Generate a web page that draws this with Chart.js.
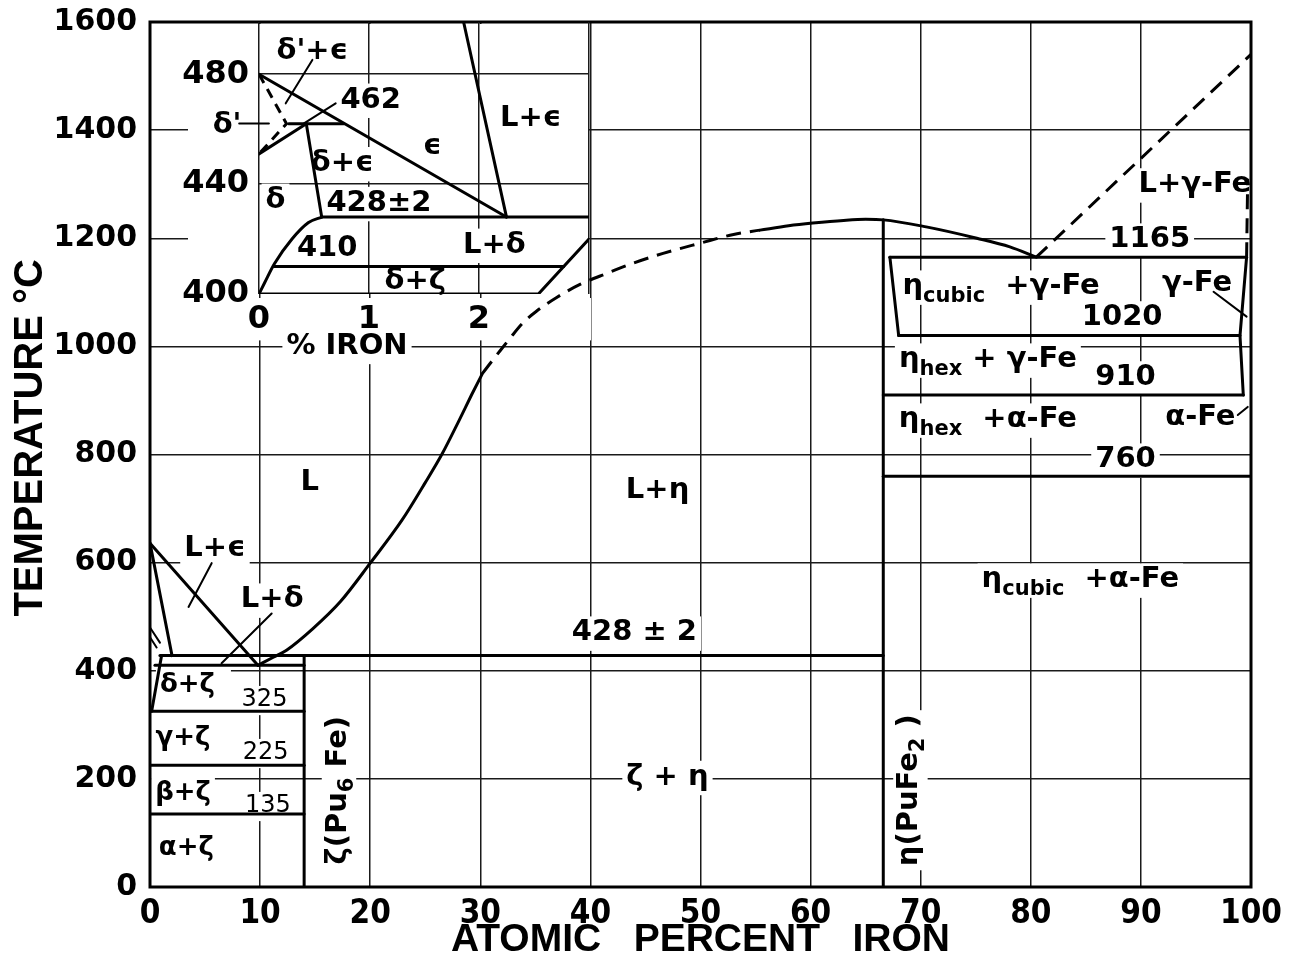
<!DOCTYPE html>
<html>
<head>
<meta charset="utf-8">
<script src="https://cdn.jsdelivr.net/npm/chart.js@4.4.1/dist/chart.umd.min.js"></script>
<style>
  html, body { margin: 0; padding: 0; background: #fff; }
  #wrap { position: relative; width: 1295px; height: 968px; overflow: hidden; }
  #main { position: absolute; left: 0; top: 0; }
  #inset { position: absolute; left: 150px; top: 0; }
</style>
</head>
<body>
<div id="wrap">
  <canvas id="main" width="1295" height="968"></canvas>
  <canvas id="inset" width="460" height="370"></canvas>
</div>
<script>
// ---- Pu-Fe phase diagram: axes ----
const xTickValues = [0, 10, 20, 30, 40, 50, 60, 70, 80, 90, 100];
const yTickValues = [0, 200, 400, 600, 800, 1000, 1200, 1400, 1600];
const insetXTicks = [0, 1, 2, 3];
const insetYTicks = [400, 440, 480];

// ---- main diagram boundaries (at.% Fe, deg C) ----
const liquidusEpsilon = [[0, 636], [9.8, 410]];
const solidusEpsilon = [[0, 636], [2.0, 428]];
const deltaPrimeUpper = [[0, 480], [0.9, 452]];
const deltaPrimeLower = [[0, 462], [0.6, 443]];
const liquidusEtaLow = [[9.8, 410], [11.2, 425], [12.4, 438], [14.8, 478], [17.3, 528], [20, 599],
                        [22.9, 679], [25, 748], [26.5, 800], [28, 860], [29.2, 910], [30.2, 950]];
const liquidusEtaMid = [[30.2, 950], [30.8, 966], [31.8, 992], [32.7, 1015], [33.9, 1044], [35.1, 1065],
                        [36.9, 1090], [39.1, 1115], [41.5, 1135], [43.9, 1154], [46.6, 1172], [50, 1191],
                        [53, 1207], [55.4, 1215]];
const liquidusEtaTop = [[55.4, 1215], [58, 1223], [60.2, 1228], [63, 1233], [65, 1235], [66.6, 1234],
                        [70.5, 1221], [75.1, 1200], [78.1, 1184], [80.5, 1165]];
const liquidusGammaFe = [[80.5, 1165], [100, 1540]];
const solidusGammaFe = [[99.6, 1165], [99.7, 1310]];
const peritectic428 = [[0.9, 428], [66.6, 428]];
const eutectic410 = [[0.45, 410], [14, 410]];
const zetaPhase = [[14, 428], [14, 0]];
const etaPhase = [[66.6, 1234], [66.6, 0]];
const deltaSolvus = [[1.05, 428], [0.15, 325]];
const delta325 = [[0.15, 325], [14, 325]];
const gamma225 = [[0, 225], [14, 225]];
const beta135 = [[0, 135], [14, 135]];
const etaGamma1165 = [[67.2, 1165], [99.6, 1165]];
const etaCubicEdge = [[67.2, 1165], [68.0, 1020]];
const gammaFeSolvus = [[99.6, 1165], [99.0, 1020], [99.3, 910]];
const etaHex1020 = [[68.0, 1020], [99.0, 1020]];
const gammaAlpha910 = [[66.6, 910], [99.3, 910]];
const etaCubic760 = [[66.6, 760], [100, 760]];
const leaderLEps = [[5.6, 599], [3.5, 518]];
const leaderLDelta = [[11.05, 506], [6.5, 414]];
const leaderGammaFe = [[96.6, 1101], [99.6, 1055]];
const leaderAlphaFe = [[98.8, 873], [99.7, 888]];

// ---- enlarged Pu corner (wt.% Fe, deg C) ----
const insetFrame = [[0, 400], [2.54, 400], [3, 420]];
const insetSolidusEps = [[1.86, 499], [2.25, 428]];
const insetSolvusEps = [[0, 480], [2.25, 428]];
const insetLine462 = [[0.27, 462], [0.77, 462]];
const insetSolvusDelta = [[0.43, 462], [0.57, 428]];
const insetDeltaPrime = [[0, 451], [0.43, 462]];
const insetDeltaPrimeDash = [[0, 480], [0.25, 462], [0, 451]];
const insetLine428 = [[0.57, 428], [3, 428]];
const insetSolidusDelta = [[0, 400], [0.05, 404], [0.14, 411], [0.3, 420], [0.45, 426], [0.57, 428]];
const insetLine410 = [[0.14, 410], [2.77, 410]];
const insetLeaderDPE = [[0.485, 485.2], [0.243, 469.4]];
const insetLeader462 = [[0.697, 469.4], [0.409, 462.1]];
const insetLeaderDP = [[-0.18, 462.1], [0.09, 462.1]];

// ---- field names and temperatures ----
const mainLabels = [
  { x: 14.5, y: 749, t: 'L' },
  { x: 46.1, y: 734, t: 'L+η' },
  { x: 5.9, y: 627, t: 'L+ϵ' },
  { x: 11.1, y: 531, t: 'L+δ' },
  { x: 3.4, y: 374, t: 'δ+ζ', k: 'small', wide: true },
  { x: 10.4, y: 346, t: '325', k: 'num' },
  { x: 3.0, y: 276, t: 'γ+ζ', k: 'small' },
  { x: 10.5, y: 248, t: '225', k: 'num' },
  { x: 3.0, y: 174, t: 'β+ζ', k: 'small' },
  { x: 10.7, y: 150, t: '135', k: 'num' },
  { x: 3.3, y: 72, t: 'α+ζ', k: 'small' },
  { x: 17.1, y: 179, t: [['ζ(Pu', 0], ['6', 1], [' Fe)', 0]], rot: -90 },
  { x: 69.0, y: 179, t: [['η(PuFe', 0], ['2', 1], [' )', 0]], rot: -90 },
  { x: 44.0, y: 470, t: '428 ± 2' },
  { x: 47.0, y: 203, t: 'ζ + η' },
  { x: 77.3, y: 1110, t: [['η', 0], ['cubic', 1], ['  +γ-Fe', 0]] },
  { x: 95.1, y: 1117, t: 'γ-Fe' },
  { x: 88.3, y: 1053, t: '1020', k: 'temp' },
  { x: 90.8, y: 1197, t: '1165', k: 'temp' },
  { x: 94.9, y: 1299, t: 'L+γ-Fe' },
  { x: 76.1, y: 975, t: [['η', 0], ['hex', 1], [' + γ-Fe', 0]] },
  { x: 88.6, y: 942, t: '910', k: 'temp' },
  { x: 76.1, y: 864, t: [['η', 0], ['hex', 1], ['  +α-Fe', 0]] },
  { x: 95.4, y: 868, t: 'α-Fe' },
  { x: 88.6, y: 790, t: '760', k: 'temp' },
  { x: 84.5, y: 568, t: [['η', 0], ['cubic', 1], ['  +α-Fe', 0]] }
];
const insetLabels = [
  { x: 0.485, y: 488.2, t: "δ'+ϵ" },
  { x: 1.015, y: 470.6, t: '462' },
  { x: -0.29, y: 461.5, t: "δ'" },
  { x: 1.575, y: 453.6, t: 'ϵ' },
  { x: 2.47, y: 464, t: 'L+ϵ' },
  { x: 0.757, y: 447.5, t: 'δ+ϵ' },
  { x: 0.15, y: 434.2, t: 'δ' },
  { x: 1.09, y: 433, t: '428±2' },
  { x: 0.62, y: 416.6, t: '410' },
  { x: 2.14, y: 417.8, t: 'L+δ' },
  { x: 1.42, y: 404.4, t: 'δ+ζ' },
  { x: 0.8, y: 381.0, t: '% IRON' }
];

// ---- styling ----
const SANS = '"DejaVu Sans", "Noto Sans", sans-serif';
const NARROW = '"Liberation Sans Narrow", "DejaVu Sans Condensed", "Liberation Sans", sans-serif';
const TITLE = '"Liberation Sans", Arial, sans-serif';
const labelStyles = {
  phase: { size: 29, weight: 'bold', family: SANS },
  small: { size: 26, weight: 'bold', family: SANS },
  num:   { size: 24, weight: 'normal', family: SANS },
  temp:  { size: 29, weight: 'bold', family: SANS }
};

function pts(a) { return a.map(p => ({ x: p[0], y: p[1] })); }
function solid(a, extra) {
  return Object.assign({ data: pts(a), showLine: true, borderColor: '#000', borderWidth: 3,
    pointRadius: 0, pointHoverRadius: 0, fill: false, borderCapStyle: 'round', borderJoinStyle: 'round' }, extra || {});
}
function dashed(a, extra) { return solid(a, Object.assign({ borderDash: [15, 9], borderCapStyle: 'butt' }, extra || {})); }
function curve(a, extra) { return solid(a, Object.assign({ cubicInterpolationMode: 'monotone' }, extra || {})); }
function thin(a, extra) { return solid(a, Object.assign({ borderWidth: 2 }, extra || {})); }

function drawLabel(ctx, chart, l, mode) {
  const st = labelStyles[l.k || 'phase'];
  const px = chart.scales.x.getPixelForValue(l.x);
  const py = chart.scales.y.getPixelForValue(l.y);
  const parts = typeof l.t === 'string' ? [[l.t, 0]] : l.t;
  const fonts = parts.map(p => `${st.weight} ${p[1] ? Math.round(st.size * 0.72) : st.size}px ${st.family}`);
  let w = 0;
  const ws = parts.map((p, i) => { ctx.font = fonts[i]; const m = ctx.measureText(p[0]).width; w += m; return m; });
  ctx.save();
  ctx.translate(px, py);
  if (l.rot) ctx.rotate(l.rot * Math.PI / 180);
  if (mode === 'box') {
    ctx.fillStyle = '#fff';
    const extra = l.wide ? 12 : 0;
    ctx.fillRect(-w / 2 - 4, -st.size * 0.5 - 2, w + 8 + extra, st.size * 1.05 + 4);
  } else {
    ctx.fillStyle = '#000';
    ctx.textBaseline = 'middle';
    ctx.textAlign = 'left';
    let x = -w / 2;
    parts.forEach((p, i) => { ctx.font = fonts[i]; ctx.fillText(p[0], x, p[1] ? st.size * 0.32 : 0); x += ws[i]; });
  }
  ctx.restore();
}
function labelPlugin(id, labels) {
  return {
    id,
    beforeDatasetsDraw(chart) { labels.forEach(l => drawLabel(chart.ctx, chart, l, 'box')); },
    afterDatasetsDraw(chart) { labels.forEach(l => drawLabel(chart.ctx, chart, l, 'text')); }
  };
}
const framePlugin = {
  id: 'frame',
  afterDraw(chart) {
    const a = chart.chartArea, ctx = chart.ctx;
    ctx.save(); ctx.strokeStyle = '#000'; ctx.lineWidth = 3;
    ctx.strokeRect(a.left, a.top, a.right - a.left, a.bottom - a.top);
    ctx.restore();
  }
};
function fixWidth(w) { return s => { s.width = w; s.paddingTop = 0; s.paddingBottom = 0; }; }
function fixHeight(h) { return s => { s.height = h; s.paddingLeft = 0; s.paddingRight = 0; }; }

const GRID = '#1a1a1a';

new Chart(document.getElementById('main'), {
  type: 'scatter',
  data: {
    datasets: [
      solid(liquidusEpsilon), solid(solidusEpsilon), thin(deltaPrimeUpper), thin(deltaPrimeLower),
      curve(liquidusEtaLow), dashed(liquidusEtaMid, { cubicInterpolationMode: 'monotone' }), curve(liquidusEtaTop),
      dashed(liquidusGammaFe), dashed(solidusGammaFe),
      solid(peritectic428), solid(eutectic410), solid(zetaPhase), solid(etaPhase),
      solid(deltaSolvus), solid(delta325), solid(gamma225), solid(beta135),
      solid(etaGamma1165), solid(etaCubicEdge), solid(gammaFeSolvus), solid(etaHex1020),
      solid(gammaAlpha910), solid(etaCubic760),
      thin(leaderLEps), thin(leaderLDelta), thin(leaderGammaFe), thin(leaderAlphaFe)
    ]
  },
  options: {
    responsive: false, animation: false, events: [],
    layout: { padding: { left: 0, top: 22, right: 44, bottom: 0 } },
    plugins: { legend: { display: false }, tooltip: { enabled: false } },
    scales: {
      x: {
        type: 'linear', min: 0, max: 100,
        afterBuildTicks: s => { s.ticks = xTickValues.map(v => ({ value: v })); },
        afterFit: fixHeight(81),
        ticks: { autoSkip: false, maxRotation: 0, padding: 8, color: '#000',
                 callback: v => String(v),
                 font: { family: NARROW, size: 33, weight: 'bold' } },
        grid: { color: GRID, lineWidth: 1.5, drawTicks: false },
        border: { display: false },
        title: { display: true, text: 'ATOMIC   PERCENT   IRON', color: '#000',
                 font: { family: TITLE, size: 39, weight: 'bold' }, padding: { top: 0, bottom: 4 } }
      },
      y: {
        type: 'linear', min: 0, max: 1600,
        afterBuildTicks: s => { s.ticks = yTickValues.map(v => ({ value: v })); },
        afterFit: fixWidth(150),
        ticks: { padding: 13, color: '#000', callback: v => String(v),
                 font: { family: SANS, size: 30, weight: 'bold' } },
        grid: { color: GRID, lineWidth: 1.5, drawTicks: false },
        border: { display: false },
        title: { display: true, text: '   TEMPERATURE °C', color: '#000',
                 font: { family: TITLE, size: 40, weight: 'bold' }, padding: { top: 7, bottom: 0 } }
      }
    }
  },
  plugins: [labelPlugin('mainLabels', mainLabels), framePlugin]
});

// white ground for the enlarged corner and its tick labels
const insetGround = {
  id: 'insetGround',
  beforeDraw(chart) {
    const ctx = chart.ctx, xs = chart.scales.x, ys = chart.scales.y;
    const top = 24;
    ctx.save(); ctx.fillStyle = '#fff';
    ctx.beginPath();
    ctx.moveTo(xs.getPixelForValue(0), top);
    ctx.lineTo(xs.getPixelForValue(3), top);
    ctx.lineTo(xs.getPixelForValue(3), ys.getPixelForValue(420));
    ctx.lineTo(xs.getPixelForValue(2.54), ys.getPixelForValue(400));
    ctx.lineTo(xs.getPixelForValue(0), ys.getPixelForValue(400));
    ctx.closePath(); ctx.fill();
    ctx.fillRect(38, top, xs.getPixelForValue(0) - 38, ys.getPixelForValue(400) - top);
    ctx.restore();
  }
};

new Chart(document.getElementById('inset'), {
  type: 'scatter',
  data: {
    datasets: [
      solid(insetFrame), solid(insetSolidusEps), solid(insetSolvusEps), solid(insetLine462),
      solid(insetSolvusDelta), solid(insetDeltaPrime), dashed(insetDeltaPrimeDash, { borderDash: [10, 7] }),
      solid(insetLine428), curve(insetSolidusDelta), solid(insetLine410),
      thin(insetLeaderDPE), thin(insetLeader462), thin(insetLeaderDP, { clip: false })
    ]
  },
  options: {
    responsive: false, animation: false, events: [],
    layout: { padding: { left: 0, top: 22, right: 21, bottom: 0 } },
    plugins: { legend: { display: false }, tooltip: { enabled: false } },
    scales: {
      x: {
        type: 'linear', min: 0, max: 3,
        afterBuildTicks: s => { s.ticks = insetXTicks.map(v => ({ value: v })); },
        afterFit: fixHeight(76),
        ticks: { autoSkip: false, maxRotation: 0, padding: 6, color: '#000',
                 callback: v => (v === 3 ? '' : String(v)),
                 showLabelBackdrop: true, backdropColor: '#fff', backdropPadding: 2,
                 font: { family: SANS, size: 32, weight: 'bold' } },
        grid: { color: GRID, lineWidth: 1.5, drawTicks: false },
        border: { display: false }
      },
      y: {
        type: 'linear', min: 400, max: 499,
        afterBuildTicks: s => { s.ticks = insetYTicks.map(v => ({ value: v })); },
        afterFit: fixWidth(109),
        ticks: { padding: 10, color: '#000', callback: v => String(v),
                 font: { family: SANS, size: 32, weight: 'bold' } },
        grid: { color: c => (c.tick && c.tick.value === 400 ? 'rgba(0,0,0,0)' : GRID), lineWidth: 1.5, drawTicks: false },
        border: { display: false }
      }
    }
  },
  plugins: [insetGround, labelPlugin('insetLabels', insetLabels)]
});
</script>
</body>
</html>
